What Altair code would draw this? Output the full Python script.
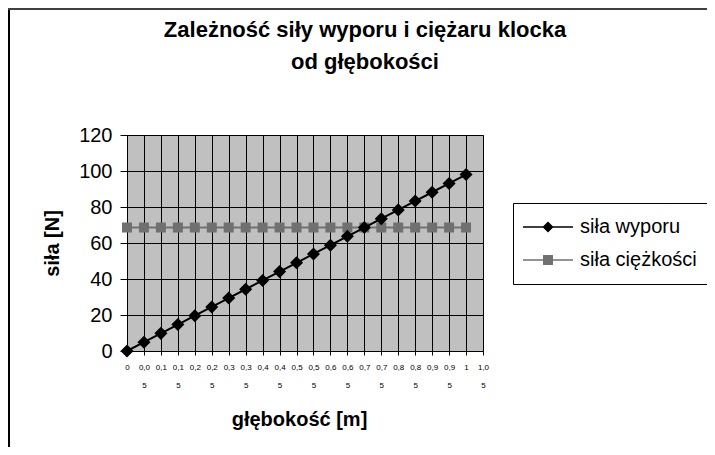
import altair as alt
import pandas as pd

# category axis labels (głębokość [m])
x_labels = ["0", "0,05", "0,1", "0,15", "0,2", "0,25", "0,3", "0,35", "0,4", "0,45",
            "0,5", "0,55", "0,6", "0,65", "0,7", "0,75", "0,8", "0,85", "0,9", "0,95",
            "1", "1,05"]
depth = ["0", "0,05", "0,1", "0,15", "0,2", "0,25", "0,3", "0,35", "0,4", "0,45",
         "0,5", "0,55", "0,6", "0,65", "0,7", "0,75", "0,8", "0,85", "0,9", "0,95", "1"]
buoyancy = [0, 4.9, 9.8, 14.7, 19.6, 24.5, 29.4, 34.3, 39.2, 44.1, 49.0,
            53.9, 58.8, 63.7, 68.6, 73.5, 78.4, 83.3, 88.2, 93.1, 98.0]
weight = [68.6, 68.6, 68.6, 68.6, 68.6, 68.6, 68.6, 68.6, 68.6, 68.6, 68.6,
          68.6, 68.6, 68.6, 68.6, 68.6, 68.6, 68.6, 68.6, 68.6, 68.6]
y_ticks = [0, 20, 40, 60, 80, 100, 120]
series_names = ["siła wyporu", "siła ciężkości"]
series_colors = ["#000000", "#707070"]

rows = []
for i, (d, b, w) in enumerate(zip(depth, buoyancy, weight)):
    rows.append({"idx": i, "depth": d, "value": b, "series": series_names[0]})
    rows.append({"idx": i, "depth": d, "value": w, "series": series_names[1]})
df = pd.DataFrame(rows)

FONT = "Liberation Sans"

x_enc = alt.X(
    "depth:O",
    sort=x_labels,
    scale=alt.Scale(type="point", domain=x_labels, padding=0),
    axis=alt.Axis(
        title="głębokość [m]",
        labelAngle=0,
        labelExpr="length(datum.label) > 3 ? [substring(datum.label, 0, 3), substring(datum.label, 3)] : datum.label",
        labelFontSize=8,
        labelLineHeight=18,
        labelPadding=8,
        labelBaseline="top",
        labelColor="#000000",
        labelFont=FONT,
        grid=True,
        gridColor="#000000",
        gridOpacity=1,
        tickSize=4,
        tickColor="#000000",
        domainColor="#000000",
        titleFontSize=20,
        titleFont=FONT,
        titleFontWeight="bold",
        titleColor="#000000",
        titlePadding=20,
        titleX=172,
    ),
)
y_enc = alt.Y(
    "value:Q",
    scale=alt.Scale(domain=[0, 120], nice=False),
    axis=alt.Axis(
        title="siła [N]",
        values=y_ticks,
        labelFontSize=20,
        labelFont=FONT,
        labelColor="#000000",
        labelPadding=8,
        grid=True,
        gridColor="#000000",
        gridOpacity=1,
        tickSize=7,
        tickColor="#000000",
        domainColor="#000000",
        titleFontSize=20,
        titleFont=FONT,
        titleFontWeight="bold",
        titleColor="#000000",
        titlePadding=16,
    ),
)


def series_layer(name, color, shape, size):
    base = alt.Chart(df).transform_filter(alt.datum.series == name)
    line = base.mark_line(strokeWidth=2, color=color).encode(x=x_enc, y=y_enc, order="idx:Q")
    pts = base.mark_point(shape=shape, filled=True, size=size, opacity=1, color=color).encode(
        x=x_enc, y=y_enc
    )
    return line, pts


line1, pts1 = series_layer(series_names[0], series_colors[0], "diamond", 170)
line2, pts2 = series_layer(series_names[1], series_colors[1], "square", 100)

legend_paths = [
    "M-2.8,0H7.2M2.2,-0.9L3.1,0L2.2,0.9L1.3,0Z",
    "M-2.8,0H7.2M1.35,-0.85H3.05V0.85H1.35Z",
]
leg = alt.Legend(
    title=None,
    orient="none",
    legendX=386,
    legendY=68,
    labelFontSize=20,
    labelFont=FONT,
    labelColor="#000000",
    symbolSize=100,
    symbolStrokeWidth=1.5,
    symbolOpacity=1,
    padding=14,
    rowPadding=13,
    labelOffset=33,
    strokeColor="#000000",
    fillColor="#ffffff",
)
legend_layer = alt.Chart(df).mark_point(filled=True, opacity=1).encode(
    x=x_enc, y=y_enc,
    fill=alt.Fill("series:N", scale=alt.Scale(domain=series_names, range=series_colors), legend=leg),
    stroke=alt.Stroke("series:N", scale=alt.Scale(domain=series_names, range=series_colors), legend=leg),
    shape=alt.Shape("series:N", scale=alt.Scale(domain=series_names, range=legend_paths), legend=leg),
).transform_filter("false")

frame_left = alt.Chart(df).mark_rule(color="#000000", strokeWidth=1.5).encode(
    x=alt.value(-118), y=alt.value(-127), y2=alt.value(312)
)
frame_top = alt.Chart(df).mark_rule(color="#404040", strokeWidth=2).encode(
    x=alt.value(-119), x2=alt.value(580), y=alt.value(-126)
)

chart = alt.layer(line2, pts2, line1, pts1, legend_layer, frame_left, frame_top).properties(
    width=356,
    height=216,
    autosize=alt.AutoSizeParams(type="none"),
    padding={"left": 119, "top": 127, "right": 224, "bottom": 96},
    title=alt.TitleParams(
        text=["Zależność siły wyporu i ciężaru klocka", "od głębokości"],
        fontSize=22,
        font=FONT,
        fontWeight="bold",
        color="#000000",
        lineHeight=32,
        anchor="middle",
        dx=60,
        offset=-67,
    ),
).configure_view(fill="#C0C0C0", stroke="#808080")

chart.save("out.html", embed_options={"renderer": "svg", "actions": False})
